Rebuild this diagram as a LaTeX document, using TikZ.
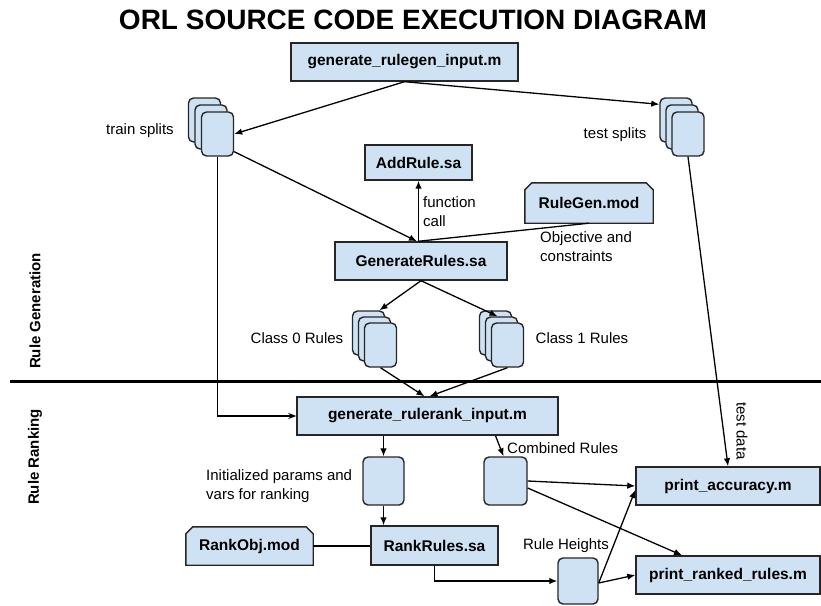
\documentclass[tikz,border=0pt]{standalone}
\usepackage{fontspec}
\setmainfont{Liberation Sans}
\usetikzlibrary{arrows.meta,calc}
\pgfdeclarelayer{background}
\pgfsetlayers{background,main}
\definecolor{boxfill}{HTML}{CFE2F3}
\definecolor{boxline}{HTML}{262626}
\begin{document}
\begin{tikzpicture}[x=1pt,y=-1pt,
  every node/.style={font=\fontsize{15}{19}\selectfont, inner sep=0pt},
  filebox/.style={draw=boxline, fill=boxfill, line width=1.4pt, font=\fontsize{15.5}{19}\selectfont\bfseries},
  modbox/.style={font=\fontsize{15.5}{19}\selectfont\bfseries},
  databox/.style={draw=boxline, fill=boxfill, line width=1.4pt, rounded corners=5pt, minimum width=32pt, minimum height=44pt},
  sectlabel/.style={rotate=90, font=\fontsize{15}{19}\selectfont\bfseries},
  conn/.style={line width=1.3pt, draw=black},
  arr/.style={conn, -{Latex[length=8pt,width=6.5pt]}},
  openarr/.style={conn, -{Stealth[length=8pt,width=6pt]}},
  lbl/.style={align=left}
]
\useasboundingbox (0,0) rectangle (821,605);

% title
\node[font=\fontsize{28}{32}\selectfont\bfseries] (title) at (413,20) {ORL SOURCE CODE EXECUTION DIAGRAM};

% section labels and divider
\node[sectlabel] (secgen) at (35,311) {Rule Generation};
\node[sectlabel] (secrank) at (35,457) {Rule Ranking};
\draw[line width=3pt] (10,381) -- (821,381);

% file boxes
\node[filebox, minimum width=227pt, minimum height=38pt] (genin) at (404.5,62) {generate\_rulegen\_input.m};
\node[filebox, minimum width=107pt, minimum height=35pt] (ar) at (418.5,162.5) {AddRule.sa};
\node[filebox, minimum width=172pt, minimum height=38pt] (gr) at (421,261) {GenerateRules.sa};
\node[filebox, minimum width=261pt, minimum height=38pt] (rr) at (427.5,416) {generate\_rulerank\_input.m};
\node[filebox, minimum width=127pt, minimum height=39pt] (rk) at (434.5,545.5) {RankRules.sa};
\node[filebox, minimum width=184pt, minimum height=38pt] (pa) at (728,486) {print\_accuracy.m};
\node[filebox, minimum width=184pt, minimum height=38pt] (pr) at (728,575) {print\_ranked\_rules.m};

% model files (chamfered)
\node[modbox, minimum width=128pt, minimum height=40pt] (rg) at (589,203) {RuleGen.mod};
\node[modbox, minimum width=127pt, minimum height=38pt] (ro) at (249.5,546) {RankObj.mod};
\begin{pgfonlayer}{background}
\filldraw[draw=boxline, fill=boxfill, line width=1.4pt] (rg.south west) -- ([yshift=-7pt]rg.north west) -- ([xshift=7pt]rg.north west) -- ([xshift=-7pt]rg.north east) -- ([yshift=-7pt]rg.north east) -- (rg.south east) -- cycle;
\filldraw[draw=boxline, fill=boxfill, line width=1.4pt] (ro.south west) -- ([yshift=-7pt]ro.north west) -- ([xshift=7pt]ro.north west) -- ([xshift=-7pt]ro.north east) -- ([yshift=-7pt]ro.north east) -- (ro.south east) -- cycle;
\end{pgfonlayer}

% stacks
\node[databox] (trb) at (204.5,120) {};
\node[databox] (trm) at (211,127) {};
\node[databox] (trf) at (217.5,134) {};
\node[databox] (tsb) at (676,120) {};
\node[databox] (tsm) at (682,127) {};
\node[databox] (tsf) at (688,134) {};
\node[databox] (c0b) at (368.5,333) {};
\node[databox] (c0m) at (374.5,339) {};
\node[databox] (c0f) at (380.5,345) {};
\node[databox] (c1b) at (495.5,333) {};
\node[databox] (c1m) at (501.5,339) {};
\node[databox] (c1f) at (507.5,345) {};

% single data items
\node[databox, minimum width=41pt, minimum height=48pt] (init) at (383.5,481) {};
\node[databox, minimum width=43pt, minimum height=48pt] (comb) at (505.5,481) {};
\node[databox, minimum width=40pt, minimum height=46pt] (rh) at (578,581) {};

% labels
\node (trlbl) at (140,131) {train splits};
\node (tslbl) at (615,135) {test splits};
\node[lbl, anchor=west] (fclbl) at (423,212) {function\\call};
\node[lbl, anchor=west] (objlbl) at (540,247) {Objective and\\constraints};
\node (c0lbl) at (297,338) {Class 0 Rules};
\node (c1lbl) at (582,338) {Class 1 Rules};
\node[lbl, anchor=west] (initlbl) at (206,486) {Initialized params and\\vars for ranking};
\node[anchor=west] (comblbl) at (507,448) {Combined Rules};
\node (rhlbl) at (566,546) {Rule Heights};
\node[rotate=-90] (tdlbl) at (742,431) {test data};

% connectors
\draw[arr] (genin.south) -- (trf.east);
\draw[arr] (genin.south) -- ([yshift=-7pt]tsb.north west);
\draw[arr] ([yshift=5pt]trf.south east) -- ([xshift=-4pt]gr.north);
\draw[openarr] (trf.south) |- (rr.west);
\draw[arr] (ar.south |- gr.north) -- (ar.south);
\draw[conn] (rg.south) -- ([xshift=-3pt]gr.north);
\draw[arr] (gr.south) -- ([xshift=11pt]c0b.north);
\draw[arr] (gr.south) -- ([xshift=-4pt]c1m.north);
\draw[arr] (c0f.south) -- ([xshift=-3pt]rr.north);
\draw[arr] (c1f.south) -- ([xshift=2pt]rr.north);
\draw[arr] (init.north |- rr.south) -- (init.north);
\draw[arr] (init.south) -- (init.south |- rk.north);
\draw[arr] ([xshift=-10pt]comb.north |- rr.south) -- ([xshift=-2pt]comb.north);
\draw[conn] (ro.east) -- (rk.west |- ro.east);
\draw[arr] (rk.south) |- (rh.west);
\draw[arr] (comb.east) -- (pa.west);
\draw[arr] ([yshift=-7pt]comb.east) -- ([xshift=-46pt]pr.north);
\draw[arr] ([yshift=-2pt]rh.east) -- ([yshift=-4pt]pa.west);
\draw[arr] ([yshift=-2pt]rh.east) -- (pr.west);
\draw[arr] (tsf.south) -- (pa.north);
\end{tikzpicture}
\end{document}
